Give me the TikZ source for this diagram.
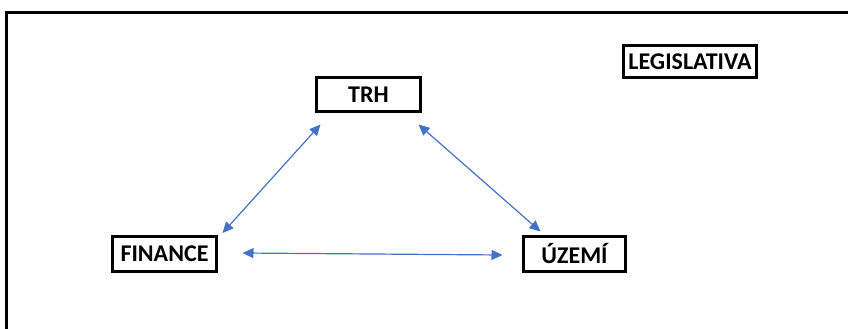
\documentclass[tikz,border=0pt]{standalone}
\usepackage{fontspec}
\setmainfont{Carlito}
\usetikzlibrary{arrows.meta}
\definecolor{arrowblue}{RGB}{68,114,196}
\tikzset{
  labelbox/.style={draw=black, line width=3pt, inner sep=0pt, anchor=center,
    font=\fontsize{24}{28}\selectfont\bfseries, text=black},
  link/.style={draw=arrowblue, line width=1.2pt,
    {Triangle[length=11pt,width=10pt]}-{Triangle[length=11pt,width=10pt]}}
}
\begin{document}
\begin{tikzpicture}[x=1pt,y=-1pt]
\useasboundingbox (0,0) rectangle (848,329);
\draw[line width=3pt] (6.5,360) -- (6.5,13) -- (870,13);
\node[labelbox, minimum width=104pt, minimum height=34pt] (trh) at (368.5,94.5) {TRH};
\node[labelbox, minimum width=133pt, minimum height=32pt] (leg) at (690,61.5) {LEGISLATIVA};
\node[labelbox, minimum width=104pt, minimum height=35pt] (fin) at (164.5,254) {FINANCE};
\node[labelbox, minimum width=102pt, minimum height=35pt] (uz) at (574.5,254) {ÚZEMÍ};
\draw[link] ([shift={(5.5,11.5)}]trh.south west) -- ([shift={(4.5,-2)}]fin.north east);
\draw[link] ([shift={(-3.5,11.5)}]trh.south east) -- ([shift={(18.5,-3.5)}]uz.north west);
\draw[link] ([shift={(24.5,-1)}]fin.east) -- ([shift={(-19.5,1)}]uz.west);
\end{tikzpicture}
\end{document}
